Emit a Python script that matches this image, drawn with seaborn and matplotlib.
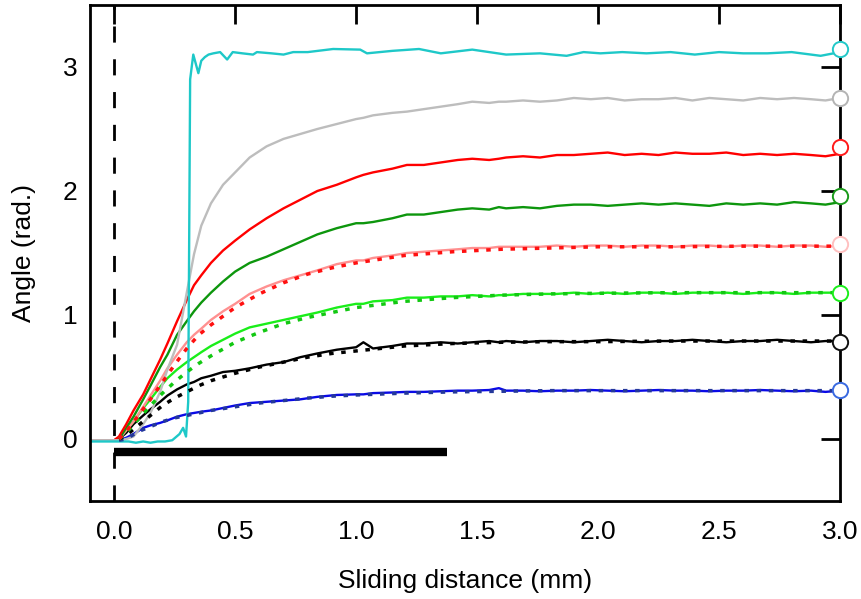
import numpy as np
import pandas as pd
import matplotlib
matplotlib.use('Agg')
import matplotlib.pyplot as plt
import seaborn as sns

# ---- data ----
x_meas = [-0.10, -0.05, 0.00, 0.02, 0.05, 0.08, 0.12, 0.15, 0.19, 0.22, 0.26, 0.30,
          0.33, 0.36, 0.40, 0.45, 0.50, 0.56, 0.63, 0.70, 0.77, 0.84, 0.92, 1.00,
          1.03, 1.07, 1.15, 1.21, 1.28, 1.35, 1.42, 1.48, 1.55, 1.59, 1.62, 1.69, 1.76,
          1.83, 1.90, 1.97, 2.04, 2.11, 2.18, 2.25, 2.32, 2.39, 2.46, 2.53, 2.60,
          2.67, 2.74, 2.81, 2.88, 2.94, 3.00]

gray_y = [-0.01, -0.01, -0.01, -0.01, 0.00, 0.02, 0.12, 0.21, 0.38, 0.56, 0.76, 1.18,
          1.49, 1.72, 1.90, 2.05, 2.15, 2.27, 2.36, 2.42, 2.46, 2.50, 2.54, 2.58,
          2.59, 2.61, 2.63, 2.64, 2.66, 2.68, 2.70, 2.72, 2.71, 2.72, 2.72, 2.73, 2.72,
          2.73, 2.75, 2.74, 2.75, 2.73, 2.74, 2.74, 2.75, 2.73, 2.75, 2.74, 2.73,
          2.75, 2.74, 2.75, 2.74, 2.73, 2.75]
red_y = [-0.01, -0.01, -0.01, 0.02, 0.12, 0.23, 0.36, 0.48, 0.64, 0.77, 0.95, 1.12,
         1.24, 1.32, 1.42, 1.52, 1.60, 1.69, 1.78, 1.86, 1.93, 2.00, 2.05, 2.11,
         2.13, 2.15, 2.18, 2.21, 2.21, 2.23, 2.25, 2.26, 2.25, 2.26, 2.27, 2.28, 2.27,
         2.29, 2.29, 2.30, 2.31, 2.29, 2.30, 2.29, 2.31, 2.30, 2.30, 2.31, 2.29,
         2.30, 2.29, 2.30, 2.29, 2.28, 2.30]
dgreen_y = [-0.01, -0.01, -0.01, 0.00, 0.09, 0.18, 0.32, 0.43, 0.58, 0.68, 0.84, 0.95,
            1.03, 1.10, 1.18, 1.27, 1.35, 1.42, 1.47, 1.53, 1.59, 1.65, 1.70, 1.74,
            1.74, 1.75, 1.78, 1.81, 1.81, 1.83, 1.85, 1.86, 1.85, 1.87, 1.86, 1.87, 1.86,
            1.88, 1.89, 1.89, 1.88, 1.89, 1.90, 1.89, 1.90, 1.89, 1.88, 1.90, 1.89,
            1.90, 1.89, 1.91, 1.90, 1.89, 1.91]
pink_y = [-0.01, -0.01, -0.01, 0.00, 0.07, 0.14, 0.26, 0.35, 0.47, 0.57, 0.68, 0.78,
          0.84, 0.89, 0.96, 1.03, 1.09, 1.17, 1.23, 1.28, 1.32, 1.36, 1.41, 1.44,
          1.44, 1.46, 1.48, 1.50, 1.51, 1.52, 1.53, 1.54, 1.54, 1.55, 1.55, 1.55, 1.55,
          1.56, 1.55, 1.56, 1.56, 1.55, 1.56, 1.56, 1.55, 1.56, 1.56, 1.55, 1.56,
          1.56, 1.55, 1.56, 1.56, 1.55, 1.56]
lgreen_y = [-0.01, -0.01, -0.01, 0.00, 0.07, 0.14, 0.25, 0.32, 0.42, 0.49, 0.56, 0.62,
            0.66, 0.70, 0.75, 0.80, 0.85, 0.90, 0.93, 0.96, 0.99, 1.02, 1.06, 1.09,
            1.09, 1.11, 1.12, 1.14, 1.14, 1.15, 1.15, 1.16, 1.15, 1.16, 1.16, 1.17, 1.17,
            1.17, 1.18, 1.17, 1.18, 1.17, 1.18, 1.18, 1.17, 1.18, 1.18, 1.18, 1.17,
            1.18, 1.18, 1.17, 1.18, 1.18, 1.18]
black_y = [-0.01, -0.01, -0.01, 0.00, 0.05, 0.12, 0.19, 0.24, 0.30, 0.35, 0.40, 0.44,
           0.46, 0.49, 0.51, 0.54, 0.55, 0.57, 0.60, 0.62, 0.66, 0.69, 0.72, 0.74,
           0.78, 0.73, 0.75, 0.77, 0.77, 0.78, 0.77, 0.78, 0.79, 0.78, 0.79, 0.78, 0.79,
           0.79, 0.78, 0.79, 0.80, 0.79, 0.78, 0.79, 0.79, 0.80, 0.79, 0.78, 0.79,
           0.79, 0.80, 0.79, 0.78, 0.79, 0.79]
blue_y = [-0.01, -0.01, -0.01, -0.01, 0.01, 0.04, 0.09, 0.11, 0.13, 0.15, 0.18, 0.20,
          0.21, 0.22, 0.23, 0.25, 0.27, 0.29, 0.30, 0.31, 0.32, 0.34, 0.355, 0.36,
          0.36, 0.37, 0.375, 0.38, 0.38, 0.385, 0.39, 0.39, 0.395, 0.41, 0.39, 0.39, 0.385,
          0.39, 0.39, 0.395, 0.39, 0.385, 0.39, 0.395, 0.39, 0.39, 0.385, 0.39, 0.39,
          0.395, 0.39, 0.385, 0.39, 0.38, 0.39]

x_cyan = [-0.10, -0.05, 0.00, 0.03, 0.06, 0.09, 0.12, 0.15, 0.18, 0.21, 0.24, 0.27,
          0.285, 0.297, 0.306, 0.314, 0.327, 0.348, 0.36, 0.375, 0.39, 0.41, 0.438,
          0.467, 0.49, 0.53, 0.574, 0.59, 0.65, 0.70, 0.74, 0.80, 0.905, 1.017,
          1.045, 1.15, 1.26, 1.35, 1.48, 1.55, 1.62, 1.76, 1.87, 1.94, 2.01, 2.10,
          2.20, 2.30, 2.40, 2.50, 2.60, 2.70, 2.80, 2.92, 3.00]
cyan_y = [-0.02, -0.02, -0.02, -0.02, -0.02, -0.03, -0.02, -0.03, -0.02, -0.02, -0.01, 0.04,
          0.09, 0.02, 0.30, 2.90, 3.10, 2.95, 3.05, 3.08, 3.10, 3.11, 3.12,
          3.06, 3.12, 3.11, 3.10, 3.12, 3.11, 3.10, 3.12, 3.12, 3.145, 3.14,
          3.11, 3.13, 3.145, 3.11, 3.14, 3.12, 3.10, 3.11, 3.09, 3.12, 3.11, 3.12,
          3.11, 3.12, 3.10, 3.12, 3.11, 3.11, 3.12, 3.09, 3.12]

# fitted curves (dotted)
x_fit = [0.02, 0.05, 0.10, 0.15, 0.20, 0.25, 0.30, 0.35, 0.40, 0.50, 0.60, 0.70,
         0.80, 0.90, 1.00, 1.20, 1.40, 1.60, 1.80, 2.00, 2.30, 2.60, 2.97]
fit_red = [0.00, 0.06, 0.19, 0.32, 0.46, 0.60, 0.73, 0.84, 0.92, 1.06, 1.17, 1.26,
           1.33, 1.38, 1.42, 1.48, 1.51, 1.53, 1.54, 1.55, 1.55, 1.555, 1.555]
fit_green = [0.00, 0.05, 0.16, 0.27, 0.37, 0.46, 0.54, 0.61, 0.67, 0.78, 0.86, 0.93,
             0.98, 1.02, 1.06, 1.11, 1.14, 1.16, 1.17, 1.175, 1.18, 1.18, 1.18]
fit_black = [0.00, 0.03, 0.11, 0.19, 0.27, 0.33, 0.38, 0.43, 0.47, 0.53, 0.58, 0.62,
             0.66, 0.69, 0.71, 0.75, 0.77, 0.78, 0.785, 0.785, 0.79, 0.79, 0.79]
fit_blue = [-0.01, 0.00, 0.06, 0.10, 0.14, 0.17, 0.19, 0.21, 0.23, 0.26, 0.29, 0.31,
            0.33, 0.345, 0.355, 0.37, 0.38, 0.385, 0.39, 0.39, 0.39, 0.39, 0.39]

# target angles (circles at the right edge)
target_names = ['cyan', 'gray', 'red', 'dgreen', 'pink', 'lgreen', 'black', 'blue']
target_angle = [3.142, 2.749, 2.356, 1.963, 1.571, 1.178, 0.785, 0.393]
target_color = ['#22c8c8', '#b4b4b4', '#ff1a1a', '#1a9a1a', '#ffc0c0', '#1aee1a', '#111111', '#3a6ae0']

bar_x = [0.0, 1.375]
bar_y = [-0.105, -0.105]

# ---- plot ----
sns.set_style('white')
plt.rcParams['font.family'] = ['Liberation Sans', 'DejaVu Sans']
plt.rcParams['text.color'] = 'black'
plt.rcParams['axes.labelcolor'] = 'black'

fig, ax = plt.subplots(figsize=(8.61, 5.99), dpi=100)
fig.subplots_adjust(left=0.1045, right=0.9756, top=0.9917, bottom=0.1636)

ax.axvline(0, color='black', lw=2, ls=(0, (5.8, 6.0)), zorder=1)
ax.plot(bar_x, bar_y, color='black', lw=6, solid_capstyle='butt', zorder=2)

solid = [
    (x_meas, blue_y, '#0a0ae6'),
    (x_meas, black_y, '#000000'),
    (x_meas, lgreen_y, '#1aee1a'),
    (x_meas, pink_y, '#ff9090'),
    (x_meas, dgreen_y, '#0d960d'),
    (x_meas, red_y, '#ff0000'),
    (x_meas, gray_y, '#bdbdbd'),
    (x_cyan, cyan_y, '#1ec8c8'),
]
for xs, ys, c in solid:
    sns.lineplot(x=xs, y=ys, color=c, lw=1.7, ax=ax, estimator=None, sort=False, zorder=3)

dotted = [
    (fit_blue, '#24389a'),
    (fit_black, '#000000'),
    (fit_green, '#12c812'),
    (fit_red, '#ff1010'),
]
for ys, c in dotted:
    sns.lineplot(x=x_fit, y=ys, color=c, lw=2.5, ls=(0, (1.3, 2.2)), ax=ax,
                 estimator=None, sort=False, zorder=4)

for ang, c in zip(target_angle, target_color):
    ax.plot([3.0], [ang], 'o', ms=11, mfc='white', mec=c, mew=1.4, clip_on=False, zorder=6)

ax.set_xlim(-0.1, 3.0)
ax.set_ylim(-0.5, 3.5)
ax.set_xticks([0.0, 0.5, 1.0, 1.5, 2.0, 2.5, 3.0])
ax.set_xticklabels(['0.0', '0.5', '1.0', '1.5', '2.0', '2.5', '3.0'])
ax.set_yticks([0, 1, 2, 3])
ax.tick_params(direction='in', length=14, width=2, labelsize=19, colors='black',
               top=True, right=True)
ax.tick_params(axis='x', pad=14)
ax.tick_params(axis='y', pad=9)
for sp in ax.spines.values():
    sp.set_linewidth(2)
    sp.set_color('black')
    sp.set_zorder(5)

ax.set_xlabel('Sliding distance (mm)', fontsize=19, labelpad=18)
ax.set_ylabel('Angle (rad.)', fontsize=19, labelpad=19)

fig.savefig('out.png', dpi=100)
